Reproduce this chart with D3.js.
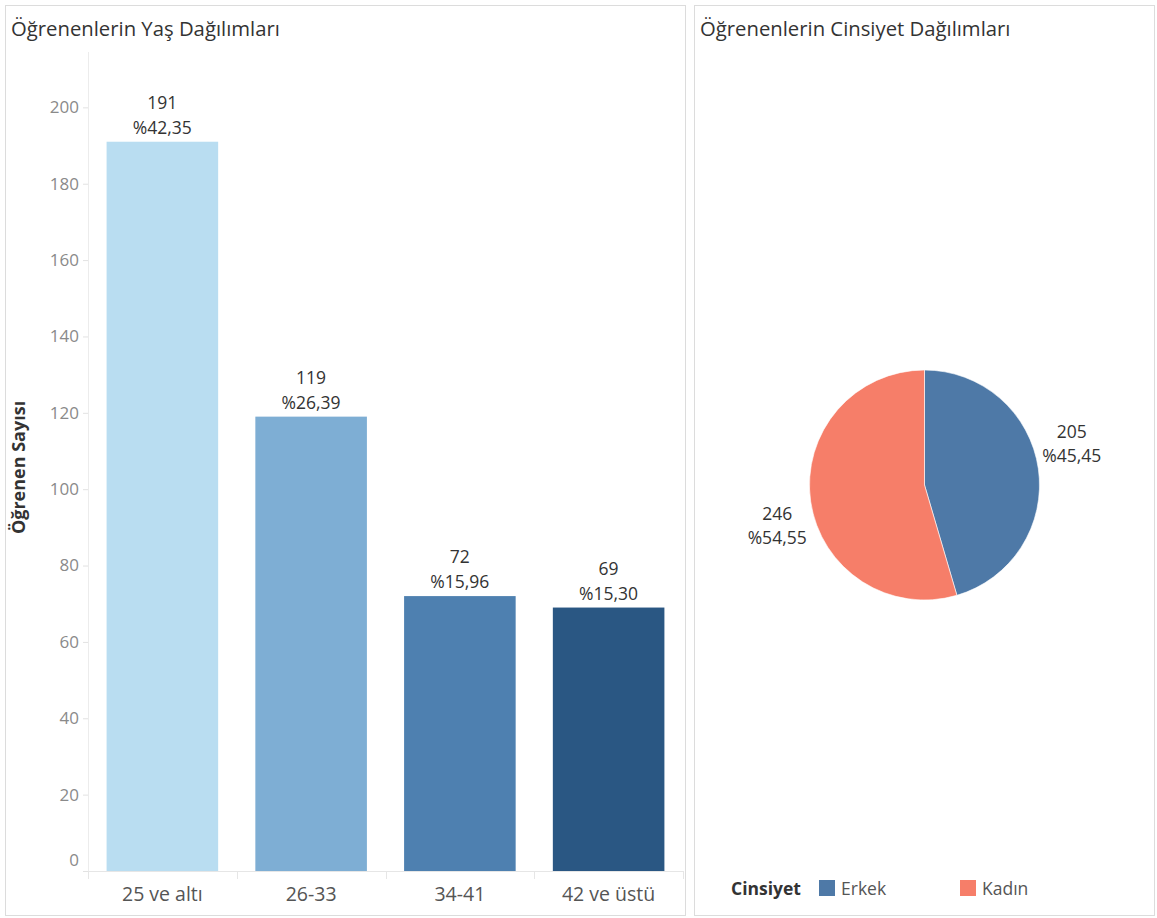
<!DOCTYPE html>
<html lang="tr">
<head>
<meta charset="utf-8">
<script src="https://cdn.jsdelivr.net/npm/d3@7"></script>
<style>
  html, body { margin: 0; padding: 0; background: #fff; }
  svg { display: block; font-family: "Open Sans", "Noto Sans", sans-serif; }
</style>
</head>
<body>
<svg id="chart" width="1157" height="918"></svg>
<script>
// Yaş grupları ve öğrenci sayıları
const ageGroups = ["25 ve altı", "26-33", "34-41", "42 ve üstü"];
const ageCounts = [191, 119, 72, 69];
const agePercents = ["%42,35", "%26,39", "%15,96", "%15,30"];
const ageColors = ["#b9ddf1", "#7eaed4", "#4e80b0", "#2a5783"];
const yTicks = [0, 20, 40, 60, 80, 100, 120, 140, 160, 180, 200];

// Cinsiyet dağılımı
const genders = ["Erkek", "Kadın"];
const genderCounts = [205, 246];
const genderPercents = ["%45,45", "%54,55"];
const genderColors = ["#4e79a7", "#f67e69"];

const svg = d3.select("#chart");

// Panel çerçeveleri
svg.append("rect").attr("x", 5.5).attr("y", 5.5).attr("width", 680).attr("height", 910)
  .attr("fill", "none").attr("stroke", "#dcdcdc");
svg.append("rect").attr("x", 694.5).attr("y", 5.5).attr("width", 460).attr("height", 910)
  .attr("fill", "none").attr("stroke", "#dcdcdc");

// Başlıklar
svg.append("text").attr("x", 11).attr("y", 36).attr("font-size", 20.3).attr("fill", "#333")
  .text("Öğrenenlerin Yaş Dağılımları");
svg.append("text").attr("x", 700).attr("y", 36).attr("font-size", 20.3).attr("fill", "#333")
  .text("Öğrenenlerin Cinsiyet Dağılımları");

// ---- Çubuk grafik ----
const plot = { left: 88, right: 683, top: 52, bottom: 871 };

const x = d3.scaleBand().domain(ageGroups)
  .range([plot.left, plot.right]).paddingInner(0.25).paddingOuter(0.125);
const y = d3.scaleLinear().domain([0, 214.5]).range([plot.bottom, plot.top]);

// Y ekseni
const yAxis = svg.append("g").attr("transform", `translate(${plot.left},0)`)
  .call(d3.axisLeft(y).tickValues(yTicks).tickSize(5).tickPadding(4));
yAxis.select(".domain").remove();
yAxis.selectAll(".tick line").attr("stroke", "#e2e2e2");
yAxis.selectAll(".tick text").attr("fill", "#8a8a8a").attr("font-size", 17)
  .attr("font-family", "'Open Sans', sans-serif");
// en alttaki etiket eksen çizgisinin üstünde kalır
yAxis.selectAll(".tick").filter(d => d === 0).select("text").attr("dy", "-0.3em");
svg.append("line").attr("x1", plot.left + 0.5).attr("x2", plot.left + 0.5)
  .attr("y1", plot.top).attr("y2", plot.bottom).attr("stroke", "#ececec");

// X ekseni ve ayraçlar
svg.append("line").attr("x1", plot.left).attr("x2", plot.right)
  .attr("y1", plot.bottom + 0.5).attr("y2", plot.bottom + 0.5).attr("stroke", "#e6e6e6");
const sepX = ageGroups.map(g => x(g) - x.step() * x.paddingInner() / 2).concat([plot.right]);
svg.selectAll(".sep").data(sepX).join("line")
  .attr("x1", d => Math.round(d) + 0.5).attr("x2", d => Math.round(d) + 0.5)
  .attr("y1", plot.bottom).attr("y2", plot.bottom + 8).attr("stroke", "#e6e6e6");

svg.selectAll(".xlab").data(ageGroups).join("text")
  .attr("x", d => x(d) + x.bandwidth() / 2).attr("y", plot.bottom + 30)
  .attr("text-anchor", "middle").attr("font-size", 19.5).attr("fill", "#555")
  .text(d => d);

// Y ekseni başlığı
svg.append("text")
  .attr("transform", `translate(25,${(plot.top + plot.bottom) / 2 + 6}) rotate(-90)`)
  .attr("text-anchor", "middle").attr("font-size", 18).attr("font-weight", "bold")
  .attr("fill", "#333").text("Öğrenen Sayısı");

// Çubuklar
svg.selectAll(".bar").data(ageGroups).join("rect")
  .attr("x", d => x(d)).attr("width", x.bandwidth())
  .attr("y", (d, i) => y(ageCounts[i]))
  .attr("height", (d, i) => y(0) - y(ageCounts[i]))
  .attr("fill", (d, i) => ageColors[i]);

// Çubuk etiketleri
const barLabels = svg.selectAll(".blab").data(ageGroups).join("text")
  .attr("text-anchor", "middle").attr("font-size", 17.5).attr("fill", "#333");
barLabels.append("tspan")
  .attr("x", d => x(d) + x.bandwidth() / 2)
  .attr("y", (d, i) => y(ageCounts[i]) - 33)
  .text((d, i) => ageCounts[i]);
barLabels.append("tspan")
  .attr("x", d => x(d) + x.bandwidth() / 2)
  .attr("y", (d, i) => y(ageCounts[i]) - 8)
  .text((d, i) => agePercents[i]);

// ---- Pasta grafik ----
const cx = 924.5, cy = 485, radius = 115;
const pie = d3.pie().sort(null).value((d, i) => genderCounts[i]);
const arcs = pie(genders);
const arc = d3.arc().innerRadius(0).outerRadius(radius);

const pieG = svg.append("g").attr("transform", `translate(${cx},${cy})`);
pieG.selectAll("path").data(arcs).join("path")
  .attr("d", arc).attr("fill", (d, i) => genderColors[i])
  .attr("stroke", "#fff").attr("stroke-width", 0.6);

// Dilim etiketleri (dilim dışında)
const labelR = 153;
const pieLabels = pieG.selectAll(".plab").data(arcs).join("text")
  .attr("text-anchor", "middle").attr("font-size", 17.5).attr("fill", "#333");
pieLabels.each(function (d, i) {
  const a = (d.startAngle + d.endAngle) / 2 - 0.13;
  const lx = labelR * Math.sin(a), ly = -labelR * Math.cos(a);
  const t = d3.select(this);
  t.append("tspan").attr("x", lx).attr("y", ly - 6).text(genderCounts[i]);
  t.append("tspan").attr("x", lx).attr("y", ly + 18).text(genderPercents[i]);
});

// Lejant
svg.append("text").attr("x", 731).attr("y", 895).attr("font-size", 17.5)
  .attr("font-weight", "bold").attr("fill", "#333").text("Cinsiyet");
const legendX = [819, 960];
const leg = svg.selectAll(".leg").data(genders).join("g")
  .attr("transform", (d, i) => `translate(${legendX[i]},880)`);
leg.append("rect").attr("width", 16).attr("height", 16)
  .attr("fill", (d, i) => genderColors[i]);
leg.append("text").attr("x", 22).attr("y", 15).attr("font-size", 17.5)
  .attr("fill", "#555").text(d => d);
</script>
</body>
</html>
